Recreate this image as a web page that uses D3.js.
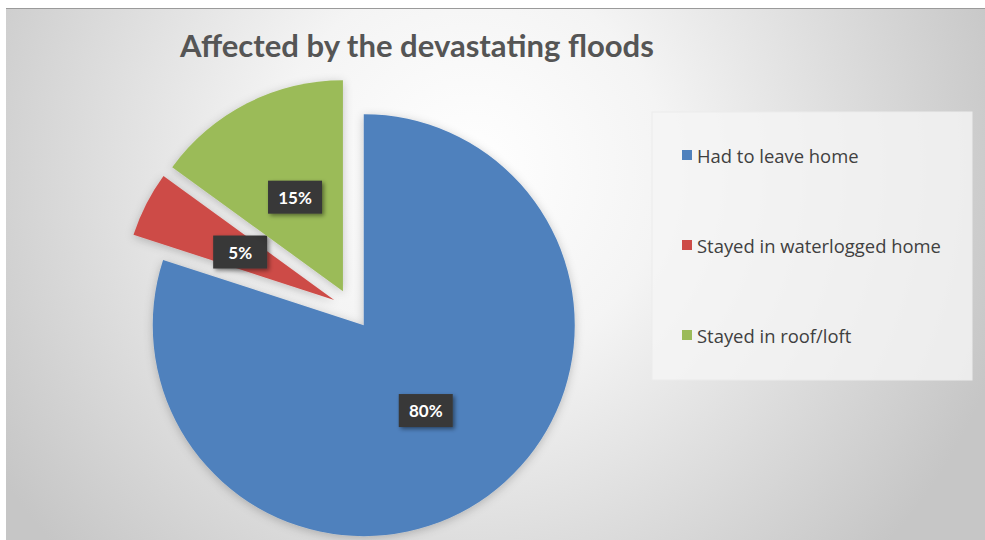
<!DOCTYPE html>
<html>
<head>
<meta charset="utf-8">
<script src="https://cdn.jsdelivr.net/npm/d3@7"></script>
<style>
  html, body { margin: 0; padding: 0; background: #ffffff; }
  svg { display: block; }
</style>
</head>
<body>
<svg id="chart" width="985" height="540"></svg>
<script>
// Survey of households affected by the floods
const categories = ["Had to leave home", "Stayed in waterlogged home", "Stayed in roof/loft"];
const percentValues = [80, 5, 15];
const sliceColors = ["#4F81BD", "#CD4B47", "#9BBB59"];
const chartTitle = "Affected by the devastating floods";

const W = 985, H = 540;
const svg = d3.select("#chart");
const defs = svg.append("defs");

// soft grey backdrop, brightest behind the title
const bg = defs.append("radialGradient").attr("id", "bgGrad")
  .attr("gradientUnits", "userSpaceOnUse")
  .attr("cx", 470).attr("cy", 170).attr("r", 560);
bg.append("stop").attr("offset", "0%").attr("stop-color", "#ffffff");
bg.append("stop").attr("offset", "35%").attr("stop-color", "#f4f4f4");
bg.append("stop").attr("offset", "100%").attr("stop-color", "#c6c6c6");

const shadow = defs.append("filter").attr("id", "sliceShadow")
  .attr("x", "-20%").attr("y", "-20%").attr("width", "140%").attr("height", "140%");
shadow.append("feDropShadow").attr("dx", 0).attr("dy", 2).attr("stdDeviation", 5)
  .attr("flood-color", "#000").attr("flood-opacity", 0.22);

const boxShadow = defs.append("filter").attr("id", "boxShadow")
  .attr("x", "-30%").attr("y", "-30%").attr("width", "160%").attr("height", "160%");
boxShadow.append("feDropShadow").attr("dx", 2).attr("dy", 2).attr("stdDeviation", 2)
  .attr("flood-color", "#000").attr("flood-opacity", 0.45);

// chart frame
svg.append("rect").attr("x", 6).attr("y", 8).attr("width", W - 6).attr("height", H - 8)
  .attr("fill", "url(#bgGrad)");
svg.append("line").attr("x1", 6).attr("x2", W).attr("y1", 8.5).attr("y2", 8.5)
  .attr("stroke", "#9a9a9a").attr("stroke-width", 1);

// title, fitted to its width
const title = svg.append("text")
  .attr("x", 417).attr("y", 57)
  .attr("text-anchor", "middle")
  .attr("font-family", "Lato, 'Open Sans', sans-serif")
  .attr("font-weight", "bold")
  .attr("font-size", 27)
  .attr("fill", "#555555")
  .text(chartTitle);
const tw = title.node().getComputedTextLength();
title.attr("font-size", 27 * 474 / tw);

// pie
const cx = 352, cy = 309, R = 211, explode = 20;
const pie = d3.pie().sort(null).value(d => d.value);
const arc = d3.arc().innerRadius(0).outerRadius(R);
const labelArc = d3.arc().innerRadius(R * 0.5).outerRadius(R * 0.5);

const data = categories.map((c, i) => ({ name: c, value: percentValues[i], color: sliceColors[i] }));
const arcs = pie(data);

const pieG = svg.append("g").attr("transform", `translate(${cx},${cy})`);
const slices = pieG.selectAll("g.slice").data(arcs).join("g")
  .attr("class", "slice")
  .attr("transform", d => {
    const a = (d.startAngle + d.endAngle) / 2;
    return `translate(${explode * Math.sin(a)},${-explode * Math.cos(a)})`;
  });

slices.append("path")
  .attr("d", arc)
  .attr("fill", d => d.data.color)
  .attr("filter", "url(#sliceShadow)");

// value labels in dark boxes
slices.each(function (d) {
  const g = d3.select(this);
  const [lx, ly] = labelArc.centroid(d);
  const bw = 54, bh = 33;
  g.append("rect")
    .attr("x", lx - bw / 2).attr("y", ly - bh / 2)
    .attr("width", bw).attr("height", bh)
    .attr("fill", "#383838")
    .attr("filter", "url(#boxShadow)");
  g.append("text")
    .attr("x", lx).attr("y", ly)
    .attr("text-anchor", "middle")
    .attr("dominant-baseline", "central")
    .attr("font-family", "Lato, 'Open Sans', sans-serif")
    .attr("font-weight", "bold")
    .attr("font-size", 17)
    .attr("fill", "#ffffff")
    .text(d.data.value + "%");
});

// legend
const legend = svg.append("g");
legend.append("rect")
  .attr("x", 652).attr("y", 112).attr("width", 320).attr("height", 268)
  .attr("fill", "#f5f5f5").attr("fill-opacity", 0.8)
  .attr("stroke", "#ebebeb");

const legendY = d3.scalePoint().domain(categories).range([155, 335]);
const items = legend.selectAll("g.item").data(data).join("g")
  .attr("class", "item")
  .attr("transform", d => `translate(682,${legendY(d.name)})`);
items.append("rect")
  .attr("x", 0).attr("y", -5).attr("width", 10).attr("height", 10)
  .attr("fill", d => d.color);
items.append("text")
  .attr("x", 15).attr("y", 0)
  .attr("dominant-baseline", "central")
  .attr("font-family", "'Open Sans', 'Noto Sans', sans-serif")
  .attr("font-size", 15)
  .attr("fill", "#404040")
  .text(d => d.name);
// fit longest legend entry to its width
const longest = items.filter((d, i) => i === 1).select("text").node();
const lw = longest.getComputedTextLength();
items.selectAll("text").attr("font-size", 15 * 244 / lw);
</script>
</body>
</html>
